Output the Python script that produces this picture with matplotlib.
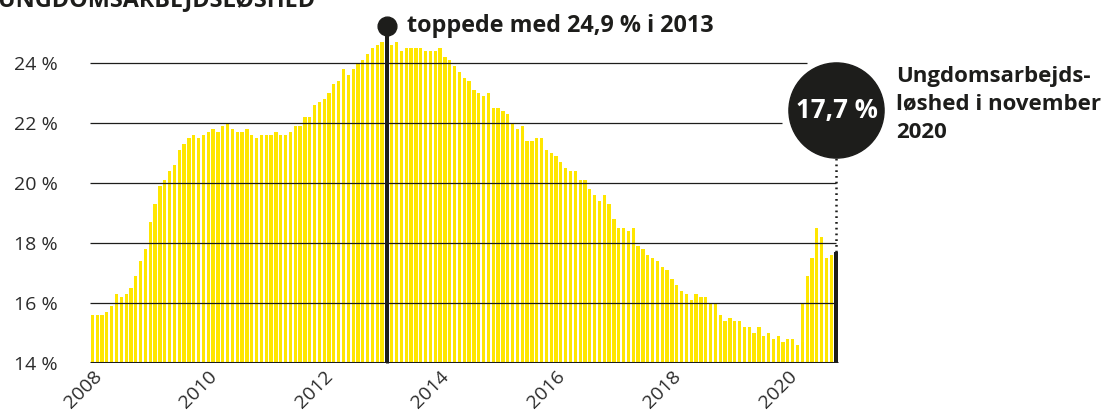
import matplotlib
matplotlib.use("Agg")
import matplotlib.pyplot as plt
import numpy as np

# monthly youth unemployment (%), Jan 2008 - Nov 2020
values = [
    15.6, 15.6, 15.6, 15.7, 15.9, 16.3, 16.2, 16.3, 16.5, 16.9, 17.4, 17.8,  # 2008
    18.7, 19.3, 19.9, 20.1, 20.4, 20.6, 21.1, 21.3, 21.5, 21.6, 21.5, 21.6,  # 2009
    21.7, 21.8, 21.7, 21.9, 22.0, 21.8, 21.7, 21.7, 21.8, 21.6, 21.5, 21.6,  # 2010
    21.6, 21.6, 21.7, 21.6, 21.6, 21.7, 21.9, 21.9, 22.2, 22.2, 22.6, 22.7,  # 2011
    22.8, 23.0, 23.3, 23.4, 23.8, 23.6, 23.8, 24.0, 24.1, 24.3, 24.5, 24.6,  # 2012
    24.7, 24.9, 24.6, 24.7, 24.4, 24.5, 24.5, 24.5, 24.5, 24.4, 24.4, 24.4,  # 2013
    24.5, 24.2, 24.1, 23.9, 23.7, 23.5, 23.4, 23.1, 23.0, 22.9, 23.0, 22.5,  # 2014
    22.5, 22.4, 22.3, 22.0, 21.8, 21.9, 21.4, 21.4, 21.5, 21.5, 21.1, 21.0,  # 2015
    20.9, 20.7, 20.5, 20.4, 20.4, 20.1, 20.1, 19.8, 19.6, 19.4, 19.6, 19.3,  # 2016
    18.8, 18.5, 18.5, 18.4, 18.5, 17.9, 17.8, 17.6, 17.5, 17.4, 17.2, 17.1,  # 2017
    16.8, 16.6, 16.4, 16.3, 16.1, 16.3, 16.2, 16.2, 16.0, 16.0, 15.6, 15.4,  # 2018
    15.5, 15.4, 15.4, 15.2, 15.2, 15.0, 15.2, 14.9, 15.0, 14.8, 14.9, 14.7,  # 2019
    14.8, 14.8, 14.6, 16.0, 16.9, 17.5, 18.5, 18.2, 17.5, 17.6, 17.7,        # 2020
]
years = [2008, 2010, 2012, 2014, 2016, 2018, 2020]
ytick_values = [14, 16, 18, 20, 22, 24]
title = "UNGDOMSARBEJDSLØSHED"
peak_label = "toppede med 24,9 % i 2013"
last_label = "17,7 %"
side_label = "Ungdomsarbejds-\nløshed i november\n2020"

YELLOW = "#ffe600"
DARK = "#1d1d1b"
W, H = 1108, 413

plt.rcParams['font.family'] = ['Open Sans', 'DejaVu Sans']

n = len(values)
idx = np.arange(n)
peak_i = int(np.argmax(values))
last_i = n - 1

fig = plt.figure(figsize=(W / 100, H / 100), dpi=100)
# axes placed in pixel terms: bottom at y=363 px, top at figure top
ax = fig.add_axes([88 / W, (H - 363.3) / H, (840 - 88) / W, 363.3 / H])
ax.set_xlim(-0.9, 154.8)
ax.set_ylim(14, 26.11)

colors = [YELLOW] * n
colors[peak_i] = DARK
colors[last_i] = DARK
ax.bar(idx, np.array(values) - 14, bottom=14, width=0.68, color=colors, zorder=2)

# gridlines (cut short where the bubble sits)
grid_end = {24: 147.9, 22: 142.7}
for v in ytick_values[1:]:
    ax.hlines(v, -0.5, grid_end.get(v, last_i), color=DARK, lw=0.9, zorder=3)
ax.hlines(14, -0.5, last_i + 0.4, color=DARK, lw=2.2, zorder=4)

# peak marker
ax.vlines(peak_i, 14, 25.25, color=DARK, lw=2.2, zorder=4, clip_on=False)
ax.plot(peak_i, 25.25, 'o', ms=13.5, color=DARK, zorder=5, clip_on=False)
fig.text(407 / W, 1 - 31.5 / H, peak_label, fontsize=16.8, fontweight='bold',
         color=DARK, ha='left', va='baseline')

# last value bubble
bubble_y = 22.44
ax.vlines(last_i, values[-1], 20.9, color=DARK, lw=1.8, linestyles=(0, (0.7, 1.6)),
          zorder=4)
ax.plot(last_i, bubble_y, 'o', ms=68.5, color=DARK, zorder=6, clip_on=False)
ax.text(last_i + 0.1, bubble_y, last_label, color='white', fontsize=18.5,
        fontweight='bold', ha='center', va='center', zorder=7)
fig.text(896 / W, 1 - 138 / H, side_label, fontsize=16.0, fontweight='bold',
         color=DARK, ha='left', va='baseline', linespacing=1.45)

fig.text(-2 / W, 1 - 7.5 / H, title, fontsize=16.8, fontweight='bold', color=DARK,
         ha='left', va='baseline')

ax.set_yticks(ytick_values)
ax.set_yticklabels([f"{v} %" for v in ytick_values], fontsize=14, color="#2b2b2b")
ax.set_xticks([(y - 2008) * 12 for y in years])
ax.set_xticklabels([str(y) for y in years], fontsize=14, color="#2b2b2b",
                   rotation=45, ha='right', rotation_mode='anchor')
ax.tick_params(axis='y', length=0, pad=22)
ax.tick_params(axis='x', length=0, pad=3)
for s in ax.spines.values():
    s.set_visible(False)

fig.savefig("out.png", dpi=100)
